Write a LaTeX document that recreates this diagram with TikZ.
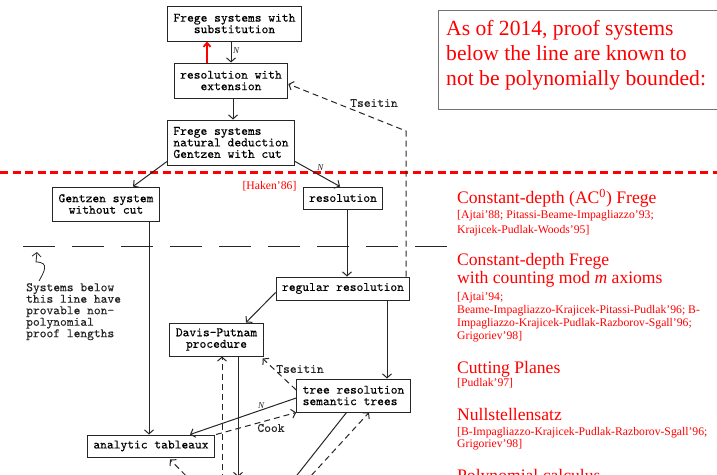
\documentclass[tikz,border=0pt]{standalone}
\usepackage{fontspec}
\setmainfont{Liberation Serif}
\newfontfamily\typewr[Extension=.otf, FakeBold=0.3]{lmmono10-regular}
\usepackage{tikz}
\usetikzlibrary{arrows.meta}

\tikzset{
  sysbox/.style={draw=black!85, line width=1pt, font=\fontsize{12.9}{11.5}\selectfont\typewr,
    align=center, inner xsep=6pt, inner ysep=3pt, minimum height=22pt},
  conn/.style={draw=black!85, line width=1pt, -{Straight Barb[length=4pt,width=9pt]}},
  reduct/.style={conn, dash pattern=on 6pt off 4pt},
  redup/.style={draw=red, line width=1.8pt, -{Straight Barb[length=4pt,width=7pt]}},
  lbl/.style={font=\fontsize{12.9}{11.5}\selectfont\typewr, text=black!85, inner sep=0pt},
  nlbl/.style={font=\fontsize{9}{9}\selectfont\itshape, text=black!85, inner sep=1.5pt},
  headline/.style={text=red, font=\fontsize{21.6}{25}\selectfont, anchor=base west, inner sep=0pt},
  reftitle/.style={text=red, font=\fontsize{17.6}{19}\selectfont, anchor=base west, inner sep=0pt},
  refcite/.style={text=red, font=\fontsize{11.7}{13}\selectfont, anchor=base west, inner sep=0pt}
}

\begin{document}
\begin{tikzpicture}[x=1pt, y=-1pt]
        \useasboundingbox (0,0) rectangle (717,474);
        \clip (0,0) rectangle (717,474);

        % the systems
        \node[sysbox, minimum height=35pt] (subst) at (234.5,23.5) {Frege systems with\\substitution};
        \node[sysbox, minimum height=35pt] (resext) at (231,80.5) {resolution with\\extension};
        \node[sysbox, minimum height=45pt, align=left] (frege) at (231,142.5) {Frege systems\\natural deduction\\Gentzen with cut};
        \node[sysbox, minimum height=34pt] (gentzen) at (106,204) {Gentzen system\\without cut};
        \node[sysbox] (res) at (343,198) {resolution};
        \node[sysbox, minimum height=23pt] (regres) at (343,288.5) {regular resolution};
        \node[sysbox, minimum height=33pt] (dp) at (216.5,339.5) {Davis-Putnam\\procedure};
        \node[sysbox, minimum height=33pt, align=left] (treeres) at (353.5,395.5) {tree resolution\\semantic trees};
        \node[sysbox] (tableaux) at (151,446) {analytic tableaux};

        % free ends below the frame
        \coordinate (tsbend) at (406,131);
        \coordinate (dpout) at (238,477);
        \coordinate (dpin) at (222,490);
        \coordinate (tabin) at (200,490);
        \coordinate (trout) at (290,484);
        \coordinate (trin) at (298,490);

        % the lines
        \draw [red, line width=2.5pt, dash pattern=on 8pt off 4.5pt] (0,172.5) -- (717,172.5);
        \draw [black!85, line width=1pt, dash pattern=on 32pt off 17pt] (23,246) -- (452,246);

        % simulations
        \draw [redup] ([xshift=-24pt]resext.north) -- ([xshift=-27.5pt]subst.south);
        \draw [conn] ([xshift=-3.5pt]subst.south) -- (resext.north) node[nlbl, right, pos=0.45] {N};
        \draw [conn] ([xshift=2pt]resext.south) -- ([xshift=2pt]frege.north);
        \draw [conn] ([yshift=4pt]frege.south west) -- ([xshift=27pt]gentzen.north);
        \draw [conn] ([yshift=4pt]frege.south east) -- ([xshift=-3pt]res.north) node[nlbl, above right, pos=0.45] {N};
        \draw [conn] ([xshift=4pt]res.south) -- ([xshift=4pt]regres.north);
        \draw [conn] ([xshift=43pt]gentzen.south) -- ([xshift=-2pt]tableaux.north);
        \draw [conn] ([yshift=-4pt]regres.west) -- ([xshift=29.5pt]dp.north);
        \draw [conn] ([xshift=44pt]regres.south) -- ([xshift=33.5pt]treeres.north);
        \draw [conn] ([xshift=21.5pt]dp.south) -- (dpout);
        \draw [conn] ([yshift=-2.5pt]treeres.west) -- ([xshift=39pt]tableaux.north) node[nlbl, above, pos=0.33] {N};
        \draw [conn] ([xshift=-7pt]treeres.south) -- (trout);

        % reductions
        \draw [reduct] ([xshift=63pt]regres.north) -- (tsbend) -- ([yshift=-3.5pt]resext.east);
        \node[lbl] (tseitinA) at (374,103) {Tseitin};
        \draw [reduct] ([yshift=5.5pt]treeres.west) -- ([xshift=-1pt,yshift=-2pt]dp.south east);
        \node[lbl] (tseitinB) at (300,369) {Tseitin};
        \draw [reduct] ([xshift=65pt]tableaux.north) -- (treeres.south west);
        \node[lbl] (cook) at (271,428) {Cook};
        \draw [reduct] (dpin) -- ([xshift=5.5pt]dp.south);
        \draw [reduct] (tabin) -- ([xshift=19pt,yshift=-2pt]tableaux.south);
        \draw [reduct] (trin) -- ([xshift=15.5pt]treeres.south);

        % note under the black line
        \draw [conn, line width=0.8pt] (39,281) .. controls (44,272) and (50,262) .. (36,262) -- (37,252);
        \node[lbl, align=left, anchor=north west] (note) at (26,283) {Systems below\\this line have\\provable non-\\polynomial\\proof lengths};

        \node[text=red, font=\fontsize{11.7}{13}\selectfont, inner sep=0pt] (haken) at (269.5,186.5) {[Haken'86]};

        % red box and list
        \draw [black!55, line width=1pt] (438,10) rectangle (725,109);
        \node[headline] (heada) at (446,35) {As of 2014, proof systems};
        \node[headline] (headb) at (446,60.5) {below the line are known to};
        \node[headline] (headc) at (446,85.5) {not be polynomially bounded:};

        \node[reftitle] (acz) at (457,203.5) {Constant-depth (AC\textsuperscript{0}) Frege};
        \node[refcite] (aczrefa) at (457,218) {[Ajtai'88; Pitassi-Beame-Impagliazzo'93;};
        \node[refcite] (aczrefb) at (457,233) {Krajicek-Pudlak-Woods'95]};

        \node[reftitle] (modma) at (457,265) {Constant-depth Frege};
        \node[reftitle] (modmb) at (457,283.7) {with counting mod \textit{m} axioms};
        \node[refcite] (modmrefa) at (457,300) {[Ajtai'94;};
        \node[refcite] (modmrefb) at (457,313) {Beame-Impagliazzo-Krajicek-Pitassi-Pudlak'96; B-};
        \node[refcite] (modmrefc) at (457,326) {Impagliazzo-Krajicek-Pudlak-Razborov-Sgall'96;};
        \node[refcite] (modmrefd) at (457,339) {Grigoriev'98]};

        \node[reftitle] (cp) at (457,373.5) {Cutting Planes};
        \node[refcite] (cpref) at (457,386) {[Pudlak'97]};

        \node[reftitle] (ns) at (457,420.5) {Nullstellensatz};
        \node[refcite] (nsrefa) at (457,435) {[B-Impagliazzo-Krajicek-Pudlak-Razborov-Sgall'96;};
        \node[refcite] (nsrefb) at (457,447.7) {Grigoriev'98]};

        \node[reftitle] (pc) at (457,481.6) {Polynomial calculus};
\end{tikzpicture}
\end{document}
